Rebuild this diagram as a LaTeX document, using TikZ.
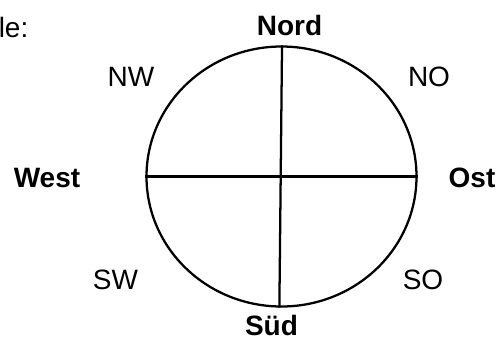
\documentclass[tikz,border=0pt]{standalone}
\usepackage{fontspec}
\setmainfont{Liberation Sans}
\usetikzlibrary{shapes.geometric}
\begin{document}
\begin{tikzpicture}[x=0.75pt,y=-0.75pt,
  lbl/.style={anchor=base,inner sep=0pt,font=\fontsize{21}{25}\selectfont},
  blbl/.style={lbl,font=\fontsize{21}{25}\selectfont\bfseries},
  ring/.style={draw,line width=1.7pt,ellipse,inner sep=0pt,minimum width=202.5pt,minimum height=195pt},
  axis/.style={line width=1.7pt}]
\useasboundingbox (0,0) rectangle (500,340);
\node[ring] (c) at (281.5,176.5) {};
\draw[axis] ([xshift=0.4pt]c.north) -- ([xshift=-1.6pt]c.south);
\draw[axis] (c.west) -- (c.east);
\node[lbl,anchor=base west] (le) at (-1.5,37) {le:};
\node[blbl] (n) at (289.5,35) {Nord};
\node[lbl] (nw) at (131,86) {NW};
\node[lbl] (no) at (429,86) {NO};
\node[blbl] (w) at (47,187) {West};
\node[blbl] (o) at (472,187) {Ost};
\node[lbl] (sw) at (115.5,289) {SW};
\node[lbl] (so) at (423,289) {SO};
\node[blbl] (s) at (271.5,335) {Süd};
\end{tikzpicture}
\end{document}
